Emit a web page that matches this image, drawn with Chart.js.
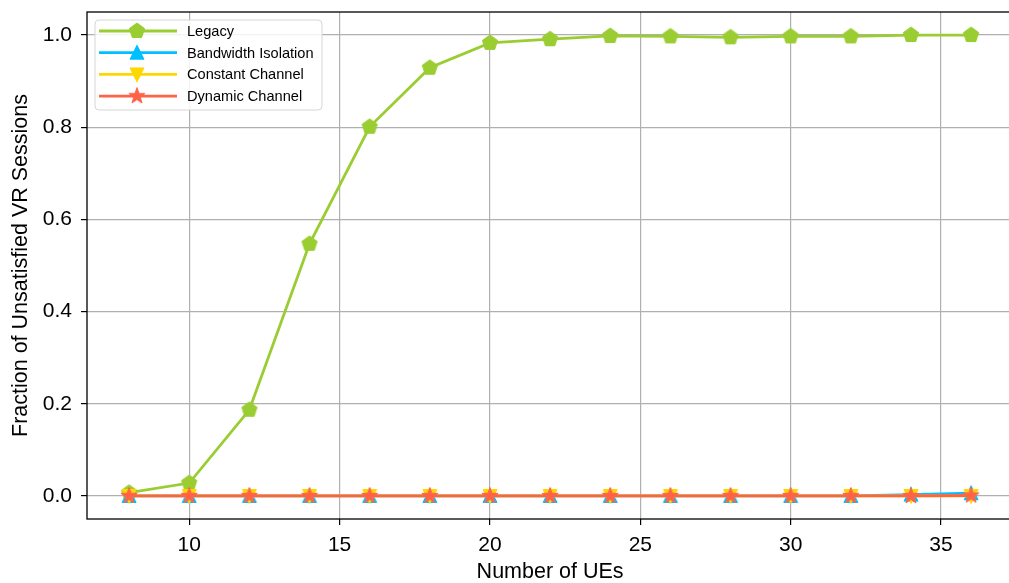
<!DOCTYPE html>
<html>
<head>
<meta charset="utf-8">
<script src="https://cdn.jsdelivr.net/npm/chart.js@4.4.1/dist/chart.umd.min.js"></script>
<style>
  html, body { margin: 0; padding: 0; background: #fff; }
  #clip { width: 1009px; height: 583px; overflow: hidden; }
  #wrap { width: 1024px; height: 583px; position: relative; }
</style>
</head>
<body>
<div id="clip"><div id="wrap"><canvas id="chart"></canvas></div></div>
<script>
// Data
const numUEs = [8, 10, 12, 14, 16, 18, 20, 22, 24, 26, 28, 30, 32, 34, 36];
const legacy = [0.007, 0.028, 0.187, 0.547, 0.801, 0.929, 0.983, 0.991, 0.998, 0.997, 0.995, 0.997, 0.997, 1.0, 1.0];
const bandwidthIsolation = [0, 0, 0, 0, 0, 0, 0, 0, 0, 0, 0, 0, 0, 0.003, 0.006];
const constantChannel = [0, 0, 0, 0, 0, 0, 0, 0, 0, 0, 0, 0, 0, 0, 0];
const dynamicChannel = [0, 0, 0, 0, 0, 0, 0, 0, 0, 0, 0, 0, 0, 0, 0.001];
const xTicks = [10, 15, 20, 25, 30, 35];
const yTicks = [0, 0.2, 0.4, 0.6, 0.8, 1.0];

const FONT = "'Liberation Sans', Arial, sans-serif";

// Build matplotlib-like marker images
function makeMarker(shape, color) {
  const c = document.createElement('canvas');
  c.width = 20; c.height = 20;
  const g = c.getContext('2d');
  g.translate(10, 10);
  g.fillStyle = color;
  g.strokeStyle = color;
  g.lineWidth = 1;
  g.beginPath();
  if (shape === 'pentagon') {
    const r = 8;
    for (let k = 0; k < 5; k++) {
      const a = -Math.PI / 2 + k * 2 * Math.PI / 5;
      g.lineTo(r * Math.cos(a), r * Math.sin(a));
    }
  } else if (shape === 'up') {
    g.moveTo(0, -7.5); g.lineTo(-7, 6.5); g.lineTo(7, 6.5);
  } else if (shape === 'down') {
    g.moveTo(0, 7.5); g.lineTo(-7, -6.5); g.lineTo(7, -6.5);
  } else if (shape === 'star') {
    const R = 8.5, r = 3.4;
    for (let k = 0; k < 10; k++) {
      const a = -Math.PI / 2 + k * Math.PI / 5;
      const rad = k % 2 === 0 ? R : r;
      g.lineTo(rad * Math.cos(a), rad * Math.sin(a));
    }
  }
  g.closePath();
  g.fill();
  g.stroke();
  return c;
}

const series = [
  { label: 'Legacy', data: legacy, color: '#9ACD32', marker: makeMarker('pentagon', '#9ACD32'), order: 4 },
  { label: 'Bandwidth Isolation', data: bandwidthIsolation, color: '#00BFFF', marker: makeMarker('up', '#00BFFF'), order: 3 },
  { label: 'Constant Channel', data: constantChannel, color: '#FFD700', marker: makeMarker('down', '#FFD700'), order: 2 },
  { label: 'Dynamic Channel', data: dynamicChannel, color: '#FF6347', marker: makeMarker('star', '#FF6347'), order: 1 }
];

// Frame around the axes and the matplotlib-style legend
const framePlugin = {
  id: 'frame',
  afterDatasetsDraw(chart) {
    const { ctx, chartArea: a } = chart;
    ctx.save();
    ctx.strokeStyle = '#000';
    ctx.lineWidth = 1.3;
    ctx.strokeRect(a.left, a.top, a.right - a.left, a.bottom - a.top);
    ctx.restore();
  },
  afterDraw(chart) {
    const { ctx, chartArea: a } = chart;
    const bx = a.left + 8, by = a.top + 8, bw = 227, bh = 90, rr = 4;
    ctx.save();
    ctx.beginPath();
    ctx.roundRect(bx, by, bw, bh, rr);
    ctx.fillStyle = 'rgba(255,255,255,0.85)';
    ctx.fill();
    ctx.strokeStyle = '#d6d6d6';
    ctx.lineWidth = 1;
    ctx.stroke();
    ctx.font = '14.6px ' + FONT;
    ctx.textBaseline = 'middle';
    series.forEach((s, i) => {
      const y = by + 11 + i * 21.7;
      ctx.strokeStyle = s.color;
      ctx.lineWidth = 2.8;
      ctx.beginPath();
      ctx.moveTo(bx + 4, y);
      ctx.lineTo(bx + 82, y);
      ctx.stroke();
      ctx.drawImage(s.marker, bx + 42 - 10, y - 10);
      ctx.fillStyle = '#000';
      ctx.fillText(s.label, bx + 92, y + 1);
    });
    ctx.restore();
  }
};

Chart.defaults.color = '#000';
Chart.defaults.font.family = FONT;

new Chart(document.getElementById('chart'), {
  type: 'line',
  data: {
    labels: numUEs,
    datasets: series.map(s => ({
      label: s.label,
      data: numUEs.map((x, i) => ({ x: x, y: s.data[i] })),
      borderColor: s.color,
      backgroundColor: s.color,
      borderWidth: 2.8,
      pointStyle: s.marker,
      pointRadius: 8,
      tension: 0,
      order: s.order
    }))
  },
  options: {
    responsive: true,
    maintainAspectRatio: false,
    animation: false,
    events: [],
    layout: { padding: { top: 12, right: 8, left: 0, bottom: 0 } },
    plugins: { legend: { display: false }, tooltip: { enabled: false } },
    scales: {
      x: {
        type: 'linear',
        min: 6.6,
        max: 37.4,
        afterBuildTicks: scale => { scale.ticks = xTicks.map(v => ({ value: v })); },
        afterFit: scale => { scale.height = 64; scale.paddingLeft = 0; scale.paddingRight = 0; },
        grid: { color: '#b0b0b0', lineWidth: 1.2, tickLength: 6, tickColor: '#000', tickWidth: 1.2 },
        border: { display: false },
        ticks: { font: { size: 21 }, padding: 8, maxRotation: 0 },
        title: { display: true, text: 'Number of UEs', font: { size: 21.5, lineHeight: 1 }, padding: { top: 0, bottom: 0 } }
      },
      y: {
        type: 'linear',
        min: -0.05,
        max: 1.05,
        afterBuildTicks: scale => { scale.ticks = yTicks.map(v => ({ value: v })); },
        afterFit: scale => { scale.width = 87; scale.paddingTop = 0; scale.paddingBottom = 0; },
        grid: { color: '#b0b0b0', lineWidth: 1.2, tickLength: 6, tickColor: '#000', tickWidth: 1.2 },
        border: { display: false },
        ticks: { font: { size: 21 }, padding: 9, callback: v => v.toFixed(1) },
        title: { display: true, text: 'Fraction of Unsatisfied VR Sessions', font: { size: 21.5 }, padding: { top: 8, bottom: 0 } }
      }
    }
  },
  plugins: [framePlugin]
});
</script>
</body>
</html>
